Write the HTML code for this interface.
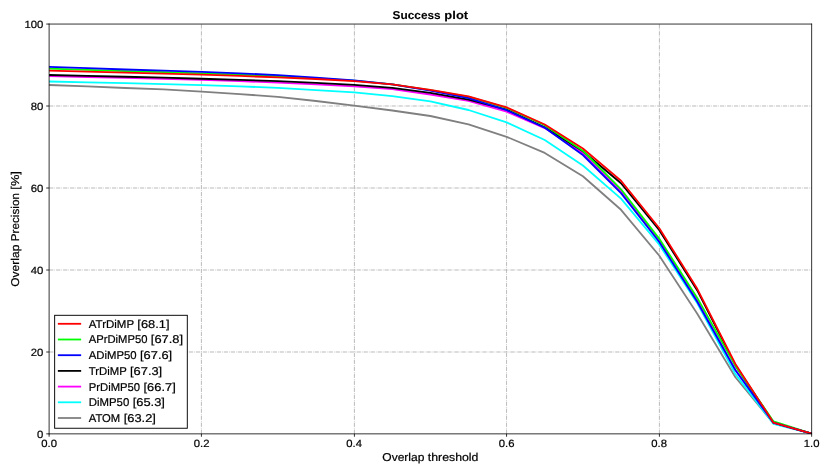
<!DOCTYPE html>
<html><head><meta charset="utf-8"><title>Success plot</title>
<style>
html,body{margin:0;padding:0;background:#fff;}
body{width:830px;height:475px;overflow:hidden;}
svg{display:block;will-change:transform;}
text{font-family:"Liberation Sans",sans-serif;fill:#000;stroke:#000;stroke-width:0.20px;text-rendering:geometricPrecision;}
.t12{font-size:10.55px;}
.t13{font-size:11.34px;}
.ttl{font-size:11.34px;font-weight:bold;stroke-width:0.1px;}
</style></head>
<body>
<svg width="830" height="475" viewBox="0 0 830 475">
<rect x="0" y="0" width="830" height="475" fill="#ffffff"/>
<defs><clipPath id="ax"><rect x="49.12" y="24.05" width="762.53" height="409.80"/></clipPath></defs>
<!-- grid -->
<g stroke="#b0b0b0" stroke-width="0.85" stroke-dasharray="4.225 1.05 0.66 1.0535" fill="none">
<line x1="201.42" y1="433.85" x2="201.42" y2="24.05"/>
<line x1="354.42" y1="433.85" x2="354.42" y2="24.05"/>
<line x1="506.55" y1="433.85" x2="506.55" y2="24.05"/>
<line x1="659.42" y1="433.85" x2="659.42" y2="24.05"/>
<line x1="49.12" y1="352.00" x2="811.65" y2="352.00" stroke-width="0.88"/>
<line x1="49.12" y1="270.00" x2="811.65" y2="270.00" stroke-width="0.88"/>
<line x1="49.12" y1="188.00" x2="811.65" y2="188.00" stroke-width="0.88"/>
<line x1="49.12" y1="106.00" x2="811.65" y2="106.00" stroke-width="0.88"/>
</g>
<!-- curves -->
<g clip-path="url(#ax)" fill="none" stroke-width="1.80" stroke-linejoin="round" stroke-linecap="square">
<polyline stroke="#808080" points="49.12,85.00 87.25,86.45 125.37,88.00 163.50,89.40 201.63,91.60 239.75,94.10 277.88,96.80 316.01,101.00 354.13,105.60 392.26,110.50 430.38,116.00 468.51,124.40 506.64,136.80 544.76,152.95 582.89,176.30 621.02,209.80 659.14,255.50 697.27,313.70 735.40,377.30 773.52,423.40 811.65,433.60"/>
<polyline stroke="#00ffff" points="49.12,81.50 87.25,82.30 125.37,83.20 163.50,84.05 201.63,85.05 239.75,86.35 277.88,87.90 316.01,90.10 354.13,92.40 392.26,96.10 430.38,101.40 468.51,110.00 506.64,122.40 544.76,139.95 582.89,165.55 621.02,198.60 659.14,244.40 697.27,303.20 735.40,374.10 773.52,423.90 811.65,433.60"/>
<polyline stroke="#ff00ff" points="49.12,76.20 87.25,77.00 125.37,77.90 163.50,78.80 201.63,79.80 239.75,81.15 277.88,82.60 316.01,84.40 354.13,86.45 392.26,89.20 430.38,94.50 468.51,100.90 506.64,111.70 544.76,128.10 582.89,152.90 621.02,191.00 659.14,240.20 697.27,300.60 735.40,369.60 773.52,422.80 811.65,433.60"/>
<polyline stroke="#000000" points="49.12,75.00 87.25,75.85 125.37,76.75 163.50,77.65 201.63,78.75 239.75,79.85 277.88,81.10 316.01,82.95 354.13,84.85 392.26,87.90 430.38,92.95 468.51,99.70 506.64,109.60 544.76,127.20 582.89,151.30 621.02,183.30 659.14,230.00 697.27,290.40 735.40,365.20 773.52,422.70 811.65,433.60"/>
<polyline stroke="#00ff00" points="49.12,68.70 87.25,69.85 125.37,71.10 163.50,72.10 201.63,73.30 239.75,74.65 277.88,76.20 316.01,78.30 354.13,80.70 392.26,84.40 430.38,90.20 468.51,96.90 506.64,107.90 544.76,125.15 582.89,150.75 621.02,189.30 659.14,238.60 697.27,297.90 735.40,365.90 773.52,421.40 811.65,433.60"/>
<polyline stroke="#0000ff" points="49.12,66.95 87.25,68.15 125.37,69.50 163.50,70.60 201.63,71.85 239.75,73.35 277.88,75.05 316.01,77.65 354.13,80.40 392.26,84.30 430.38,90.60 468.51,98.10 506.64,110.20 544.76,127.75 582.89,155.00 621.02,193.10 659.14,241.70 697.27,301.70 735.40,370.30 773.52,422.70 811.65,433.60"/>
<polyline stroke="#ff0000" points="49.12,70.65 87.25,71.55 125.37,72.55 163.50,73.55 201.63,74.70 239.75,75.95 277.88,77.40 316.01,79.00 354.13,81.05 392.26,84.45 430.38,89.85 468.51,96.40 506.64,107.40 544.76,124.45 582.89,148.50 621.02,180.80 659.14,228.00 697.27,288.80 735.40,364.00 773.52,422.70 811.65,433.60"/>
</g>
<!-- ticks -->
<g stroke="#000" stroke-width="0.80">
<line x1="49.12" y1="433.85" x2="49.12" y2="436.75"/>
<line x1="201.42" y1="433.85" x2="201.42" y2="436.75"/>
<line x1="354.42" y1="433.85" x2="354.42" y2="436.75"/>
<line x1="506.55" y1="433.85" x2="506.55" y2="436.75"/>
<line x1="659.42" y1="433.85" x2="659.42" y2="436.75"/>
<line x1="811.65" y1="433.85" x2="811.65" y2="436.75"/>
<line x1="46.22" y1="433.85" x2="49.12" y2="433.85"/>
<line x1="46.22" y1="352.00" x2="49.12" y2="352.00"/>
<line x1="46.22" y1="270.00" x2="49.12" y2="270.00"/>
<line x1="46.22" y1="188.00" x2="49.12" y2="188.00"/>
<line x1="46.22" y1="106.00" x2="49.12" y2="106.00"/>
<line x1="46.22" y1="24.05" x2="49.12" y2="24.05"/>
</g>
<!-- spines -->
<g stroke="#000" fill="none" stroke-width="0.80">
<line x1="49.12" y1="23.65" x2="49.12" y2="434.25"/>
<line x1="811.65" y1="23.65" x2="811.65" y2="434.25"/>
<line x1="48.72" y1="24.05" x2="812.05" y2="24.05"/>
<line x1="48.72" y1="433.85" x2="812.05" y2="433.85"/>
</g>
<!-- tick labels -->
<text class="t12" y="447.00"><tspan x="41.26" textLength="15.71" lengthAdjust="spacingAndGlyphs">0.0</tspan></text>
<text class="t12" y="447.00"><tspan x="193.77" textLength="15.71" lengthAdjust="spacingAndGlyphs">0.2</tspan></text>
<text class="t12" y="447.00"><tspan x="346.28" textLength="15.71" lengthAdjust="spacingAndGlyphs">0.4</tspan></text>
<text class="t12" y="447.00"><tspan x="498.78" textLength="15.71" lengthAdjust="spacingAndGlyphs">0.6</tspan></text>
<text class="t12" y="447.00"><tspan x="651.29" textLength="15.71" lengthAdjust="spacingAndGlyphs">0.8</tspan></text>
<text class="t12" y="447.00"><tspan x="803.79" textLength="15.71" lengthAdjust="spacingAndGlyphs">1.0</tspan></text>
<text class="t12" y="437.65"><tspan x="37.11" textLength="6.29" lengthAdjust="spacingAndGlyphs">0</tspan></text>
<text class="t12" y="355.69"><tspan x="30.83" textLength="12.57" lengthAdjust="spacingAndGlyphs">20</tspan></text>
<text class="t12" y="273.73"><tspan x="30.83" textLength="12.57" lengthAdjust="spacingAndGlyphs">40</tspan></text>
<text class="t12" y="191.77"><tspan x="30.83" textLength="12.57" lengthAdjust="spacingAndGlyphs">60</tspan></text>
<text class="t12" y="109.81"><tspan x="30.83" textLength="12.57" lengthAdjust="spacingAndGlyphs">80</tspan></text>
<text class="t12" y="27.85"><tspan x="24.54" textLength="18.86" lengthAdjust="spacingAndGlyphs">100</tspan></text>
<!-- title and axis labels -->
<text class="ttl" y="18.90"><tspan x="392.61" textLength="48.02" lengthAdjust="spacingAndGlyphs">Success</tspan> <tspan x="444.36" textLength="23.80" lengthAdjust="spacingAndGlyphs">plot</tspan></text>
<text class="t13" y="461.00"><tspan x="382.32" textLength="42.08" lengthAdjust="spacingAndGlyphs">Overlap</tspan> <tspan x="427.80" textLength="50.65" lengthAdjust="spacingAndGlyphs">threshold</tspan></text>
<text class="t13" transform="translate(18.90,286.74) rotate(-90)" y="0"><tspan x="0.00" textLength="42.08" lengthAdjust="spacingAndGlyphs">Overlap</tspan> <tspan x="45.48" textLength="48.19" lengthAdjust="spacingAndGlyphs">Precision</tspan> <tspan x="97.07" textLength="18.52" lengthAdjust="spacingAndGlyphs">[%]</tspan></text>
<!-- legend -->
<rect x="54.65" y="315.30" width="132.65" height="112.95" fill="#fff" stroke="#000" stroke-width="0.95"/>
<line x1="58.75" y1="323.80" x2="80.25" y2="323.80" stroke="#ff0000" stroke-width="1.80" stroke-linecap="square"/>
<text class="t13" y="327.70"><tspan x="88.76" textLength="45.17" lengthAdjust="spacingAndGlyphs">ATrDiMP</tspan> <tspan x="137.33" textLength="32.19" lengthAdjust="spacingAndGlyphs">[68.1]</tspan></text>
<line x1="58.75" y1="339.50" x2="80.25" y2="339.50" stroke="#00ff00" stroke-width="1.80" stroke-linecap="square"/>
<text class="t13" y="343.40"><tspan x="88.76" textLength="58.71" lengthAdjust="spacingAndGlyphs">APrDiMP50</tspan> <tspan x="150.87" textLength="32.19" lengthAdjust="spacingAndGlyphs">[67.8]</tspan></text>
<line x1="58.75" y1="355.20" x2="80.25" y2="355.20" stroke="#0000ff" stroke-width="1.80" stroke-linecap="square"/>
<text class="t13" y="359.10"><tspan x="88.76" textLength="47.85" lengthAdjust="spacingAndGlyphs">ADiMP50</tspan> <tspan x="140.01" textLength="32.19" lengthAdjust="spacingAndGlyphs">[67.6]</tspan></text>
<line x1="58.75" y1="370.90" x2="80.25" y2="370.90" stroke="#000000" stroke-width="1.80" stroke-linecap="square"/>
<text class="t13" y="374.80"><tspan x="88.76" textLength="37.85" lengthAdjust="spacingAndGlyphs">TrDiMP</tspan> <tspan x="130.01" textLength="32.19" lengthAdjust="spacingAndGlyphs">[67.3]</tspan></text>
<line x1="58.75" y1="386.60" x2="80.25" y2="386.60" stroke="#ff00ff" stroke-width="1.80" stroke-linecap="square"/>
<text class="t13" y="390.50"><tspan x="88.76" textLength="51.38" lengthAdjust="spacingAndGlyphs">PrDiMP50</tspan> <tspan x="143.55" textLength="32.19" lengthAdjust="spacingAndGlyphs">[66.7]</tspan></text>
<line x1="58.75" y1="402.30" x2="80.25" y2="402.30" stroke="#00ffff" stroke-width="1.80" stroke-linecap="square"/>
<text class="t13" y="406.20"><tspan x="88.76" textLength="40.53" lengthAdjust="spacingAndGlyphs">DiMP50</tspan> <tspan x="132.69" textLength="32.19" lengthAdjust="spacingAndGlyphs">[65.3]</tspan></text>
<line x1="58.75" y1="418.00" x2="80.25" y2="418.00" stroke="#808080" stroke-width="1.80" stroke-linecap="square"/>
<text class="t13" y="421.90"><tspan x="88.76" textLength="31.52" lengthAdjust="spacingAndGlyphs">ATOM</tspan> <tspan x="123.69" textLength="32.19" lengthAdjust="spacingAndGlyphs">[63.2]</tspan></text>
</svg>
</body></html>
